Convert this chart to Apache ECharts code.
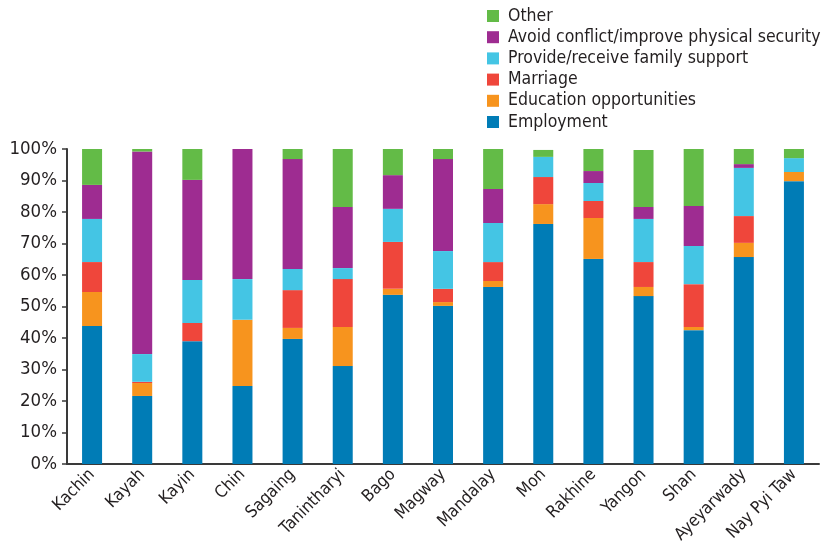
<!DOCTYPE html>
<html>
<head>
<meta charset="utf-8">
<script src="https://cdn.jsdelivr.net/npm/echarts@6/dist/echarts.min.js"></script>
<style>
  html, body { margin: 0; padding: 0; background: #fff; }
  #chart { width: 823px; height: 551px; }
</style>
</head>
<body>
<div id="chart"></div>
<script>
// States and regions along the x axis
const regions = ['Kachin', 'Kayah', 'Kayin', 'Chin', 'Sagaing', 'Tanintharyi', 'Bago', 'Magway',
  'Mandalay', 'Mon', 'Rakhine', 'Yangon', 'Shan', 'Ayeyarwady', 'Nay Pyi Taw'];

// Share of migrants by reason (%), one value per region
const employment = [43.8, 21.6, 39.0, 24.8, 39.7, 31.1, 53.7, 50.2, 56.2, 76.2, 65.1, 53.3, 42.5, 65.7, 89.8];
const education  = [10.8, 4.1, 0, 21.0, 3.5, 12.4, 1.9, 1.2, 1.9, 6.3, 13.0, 2.9, 1.0, 4.5, 2.9];
const marriage   = [9.5, 0.4, 5.8, 0, 12.0, 15.2, 14.9, 4.2, 6.0, 8.6, 5.4, 7.9, 13.6, 8.5, 0];
const family     = [13.7, 8.8, 13.6, 12.9, 6.7, 3.5, 10.5, 12.0, 12.4, 6.4, 5.7, 13.7, 12.1, 15.3, 4.4];
const conflict   = [10.8, 64.3, 31.8, 41.3, 34.9, 19.4, 10.7, 29.2, 10.8, 0, 3.8, 3.8, 12.7, 1.2, 0];
const other      = [11.4, 0.8, 9.8, 0, 3.2, 18.4, 8.3, 3.2, 12.7, 2.2, 7.0, 18.1, 18.1, 4.8, 2.9];

// Y axis tick values (percent)
const yTicks = [0, 10, 20, 30, 40, 50, 60, 70, 80, 90, 100];

const seriesDefs = [
  { name: 'Employment', data: employment, color: '#007cb6' },
  { name: 'Education opportunities', data: education, color: '#f7941e' },
  { name: 'Marriage', data: marriage, color: '#ef463b' },
  { name: 'Provide/receive family support', data: family, color: '#44c5e4' },
  { name: 'Avoid conflict/improve physical security', data: conflict, color: '#9e2c91' },
  { name: 'Other', data: other, color: '#63bb47' }
];

const FONT = '"DejaVu Sans Condensed", "Liberation Sans Narrow", sans-serif';
const TEXT = '#231f20';

const chart = echarts.init(document.getElementById('chart'), null, { renderer: 'canvas' });
chart.setOption({
  animation: false,
  backgroundColor: '#fff',
  textStyle: { fontFamily: FONT, color: TEXT },
  legend: {
    orient: 'vertical',
    left: 487,
    top: 7,
    padding: 0,
    itemWidth: 12,
    itemHeight: 12,
    itemGap: 3.2,
    icon: 'rect',
    data: seriesDefs.map(s => s.name).reverse(),
    textStyle: { fontFamily: FONT, fontSize: 17.5, lineHeight: 17, color: TEXT, padding: [0, 0, 0, 4] }
  },
  grid: { left: 67, right: 4, top: 149, bottom: 87, containLabel: false },
  xAxis: {
    type: 'category',
    data: regions,
    axisLine: { lineStyle: { color: '#3a3a3a', width: 2 } },
    axisTick: { show: false },
    axisLabel: {
      rotate: 45,
      interval: 0,
      fontFamily: FONT,
      fontSize: 17,
      color: TEXT,
      margin: 8
    }
  },
  yAxis: {
    type: 'value',
    min: 0,
    max: 100,
    interval: 10,
    splitLine: { show: false },
    axisLine: { show: true, lineStyle: { color: '#3a3a3a', width: 2 } },
    axisTick: { show: true, length: 5, lineStyle: { color: '#3a3a3a', width: 1.5 } },
    axisLabel: {
      fontFamily: FONT,
      fontSize: 18.5,
      color: TEXT,
      margin: 10,
      formatter: v => (yTicks.includes(v) ? v + '%' : '')
    }
  },
  series: seriesDefs.map(s => ({
    name: s.name,
    type: 'bar',
    stack: 'total',
    barWidth: 20,
    data: s.data,
    itemStyle: { color: s.color }
  }))
});
</script>
</body>
</html>
